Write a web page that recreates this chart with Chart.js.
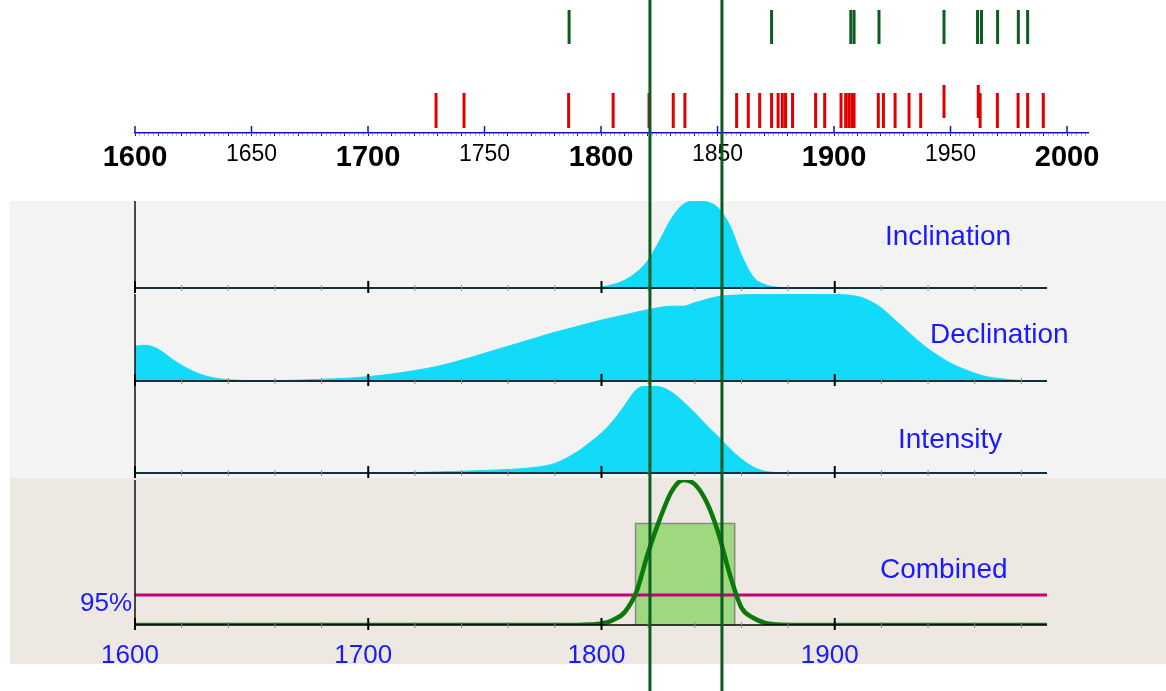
<!DOCTYPE html>
<html>
<head>
<meta charset="utf-8">
<script src="https://cdn.jsdelivr.net/npm/chart.js@4/dist/chart.umd.min.js"></script>
<style>
body { margin: 0; background: #fff; width: 1166px; height: 691px; position: relative; overflow: hidden; font-family: "Liberation Sans", Arial, sans-serif; }
canvas { position: absolute; left: 0; }
.bg { position: absolute; left: 10px; right: 0; }
.lbl { position: absolute; color: #1a1aff; font-size: 28px; line-height: 1; white-space: nowrap; }
</style>
</head>
<body>
<div class="bg" style="top:201px;height:277px;background:#f3f3f3"></div>
<div class="bg" style="top:478px;height:186px;background:#ede8e2"></div>

<canvas id="topAxis" width="1166" height="178" style="top:0"></canvas>
<canvas id="incl" width="1166" height="94" style="top:200px"></canvas>
<canvas id="decl" width="1166" height="94" style="top:293px"></canvas>
<canvas id="inten" width="1166" height="94" style="top:385px"></canvas>
<canvas id="comb" width="1166" height="186" style="top:478px"></canvas>

<div class="lbl" style="left:885px;top:222px">Inclination</div>
<div class="lbl" style="left:930px;top:320px">Declination</div>
<div class="lbl" style="left:898px;top:425px">Intensity</div>
<div class="lbl" style="left:880px;top:555px">Combined</div>
<div class="lbl" style="left:80px;top:589px;font-size:26px">95%</div>

<canvas id="overlay" width="1166" height="691" style="top:0;z-index:5;pointer-events:none"></canvas>

<script>
// event dates on the top time line
var redEvents = [1729.2, 1741.2, 1786.1, 1805.2, 1820.6, 1831.0, 1836.0, 1858.2, 1863.2, 1868.1,
    1873.2, 1876.0, 1877.8, 1879.2, 1882.2, 1892.1, 1896.0, 1903.0, 1905.0, 1906.3, 1907.6, 1908.6,
    1919.0, 1921.2, 1926.2, 1932.2, 1937.2, 1962.7, 1970.1, 1979.0, 1983.1, 1989.8];
var redEventsTall = [1947.2, 1961.9];
var greenEvents = [1786.3, 1873.2, 1907.2, 1908.6, 1919.3, 1947.2, 1961.6, 1963.3, 1970.2, 1979.1, 1983.1];
var rangeBounds = [1821.0, 1851.9];

// density curves (relative heights)
var inclYears = [1600, 1795, 1800, 1805, 1810, 1815, 1820, 1825, 1830, 1835, 1840, 1845, 1850, 1855, 1860, 1865, 1870, 1875, 1880, 1991];
var inclDensity = [0, 0, 0.01, 0.04, 0.09, 0.18, 0.32, 0.55, 0.8, 0.96, 1.0, 0.99, 0.92, 0.72, 0.38, 0.13, 0.04, 0.01, 0, 0];

var declYears = [1600, 1604, 1608, 1612, 1616, 1620, 1625, 1630, 1635, 1640, 1650, 1660, 1670, 1680, 1690, 1700,
    1710, 1720, 1730, 1740, 1750, 1760, 1770, 1780, 1790, 1800, 1810, 1820, 1830, 1835, 1840, 1850, 1860,
    1880, 1900, 1910, 1915, 1920, 1925, 1930, 1935, 1940, 1945, 1950, 1955, 1960, 1965, 1970, 1980, 1991];
var declDensity = [0.40, 0.41, 0.39, 0.33, 0.25, 0.18, 0.11, 0.06, 0.03, 0.015, 0.005, 0.005, 0.01, 0.02, 0.03, 0.05,
    0.08, 0.12, 0.17, 0.24, 0.32, 0.40, 0.48, 0.56, 0.63, 0.70, 0.76, 0.82, 0.86, 0.86, 0.9, 0.97, 0.99,
    1.0, 0.995, 0.97, 0.92, 0.84, 0.72, 0.6, 0.48, 0.37, 0.28, 0.2, 0.14, 0.09, 0.05, 0.03, 0.005, 0];

var intYears = [1600, 1710, 1720, 1740, 1750, 1760, 1770, 1780, 1790, 1795, 1800, 1805, 1810, 1815, 1820, 1825,
    1830, 1835, 1840, 1845, 1850, 1855, 1860, 1865, 1870, 1875, 1880, 1991];
var intDensity = [0, 0, 0.005, 0.02, 0.03, 0.04, 0.06, 0.11, 0.25, 0.35, 0.46, 0.6, 0.78, 0.96, 1.0, 0.99,
    0.93, 0.82, 0.69, 0.55, 0.42, 0.28, 0.16, 0.07, 0.02, 0.005, 0, 0];

var combYears = [1600, 1790, 1795, 1800, 1805, 1810, 1815, 1820, 1825, 1830, 1835, 1840, 1845, 1850, 1855, 1860, 1865, 1870, 1875, 1880, 1991];
var combDensity = [0, 0, 0.003, 0.01, 0.035, 0.09, 0.23, 0.5, 0.73, 0.92, 1.0, 0.97, 0.85, 0.64, 0.35, 0.12, 0.05, 0.015, 0.003, 0, 0];

var hpdRange = [1814.6, 1857.1];
var hpdHeight = 0.70;
var level95 = 0.207;

var bottomTickYears = [1600, 1700, 1800, 1900];

var FONT = '"Liberation Sans", Arial, sans-serif';
var CYAN = '#11dbf8';
var DARK_GREEN = '#0d5c1f';
var AXIS_BLUE = '#1010d0';

function pts(xs, ys) {
    return xs.map(function (x, i) { return { x: x, y: ys[i] }; });
}

function marks(years, level) {
    return years.map(function (x) { return { x: x, y: level }; });
}

function tickMarks(years, level, color, len) {
    return {
        data: marks(years, level),
        pointStyle: 'line',
        pointRotation: 90,
        pointRadius: len / 2,
        pointBorderColor: color,
        pointBorderWidth: 3,
        showLine: false
    };
}

var noLegend = { legend: { display: false }, tooltip: { enabled: false } };

// upward ticks every 50 years on the top axis
var topAxisTicks = {
    id: 'topAxisTicks',
    afterDraw: function (chart) {
        var ctx = chart.ctx, a = chart.chartArea, x = chart.scales.x;
        ctx.save();
        ctx.strokeStyle = AXIS_BLUE;
        ctx.lineWidth = 1.5;
        for (var v = 1600; v <= 2000; v += 50) {
            var px = x.getPixelForValue(v);
            ctx.beginPath();
            ctx.moveTo(px, a.bottom);
            ctx.lineTo(px, a.bottom - 7);
            ctx.stroke();
        }
        ctx.restore();
    }
};

new Chart(document.getElementById('topAxis'), {
    type: 'scatter',
    data: {
        datasets: [
            tickMarks(greenEvents, 27, DARK_GREEN, 34),
            tickMarks(redEvents, 110.5, '#e00000', 35),
            tickMarks(redEventsTall, 101.5, '#e00000', 33)
        ]
    },
    options: {
        responsive: false,
        animation: false,
        layout: { autoPadding: false, padding: { left: 135, right: 78, top: 0, bottom: 0 } },
        plugins: noLegend,
        scales: {
            x: {
                type: 'linear', min: 1600, max: 2009,
                afterFit: function (s) { s.height = 45; },
                border: { color: AXIS_BLUE, width: 1.5 },
                grid: {
                    drawOnChartArea: false, tickLength: 3,
                    tickColor: function (c) { return c.tick && c.tick.value % 10 === 0 ? AXIS_BLUE : 'rgba(16,16,208,0.35)'; }
                },
                ticks: {
                    stepSize: 2, autoSkip: false, maxRotation: 0, minRotation: 0, includeBounds: false,
                    padding: 5, color: '#000',
                    callback: function (v) { return v % 50 === 0 ? String(v) : ''; },
                    font: function (c) {
                        var big = c.tick && c.tick.value % 100 === 0;
                        return { family: FONT, size: big ? 29 : 23, weight: big ? 'bold' : 'normal' };
                    }
                }
            },
            y: { display: false, min: 0, max: 133, reverse: true }
        }
    },
    plugins: [topAxisTicks]
});

// left axis, baseline and 20-year ticks of each panel
var panelFrame = {
    id: 'panelFrame',
    afterDatasetsDraw: function (chart, args, opts) {
        var ctx = chart.ctx, a = chart.chartArea, x = chart.scales.x;
        ctx.save();
        ctx.strokeStyle = '#111';
        ctx.lineWidth = 1.5;
        ctx.beginPath();
        ctx.moveTo(a.left, a.top);
        ctx.lineTo(a.left, a.bottom);
        ctx.stroke();
        ctx.strokeStyle = opts.baseColor || '#10303a';
        ctx.lineWidth = opts.baseWidth || 2;
        ctx.beginPath();
        ctx.moveTo(a.left, a.bottom);
        ctx.lineTo(a.right, a.bottom);
        ctx.stroke();
        for (var v = 1600; v <= x.max; v += 20) {
            var px = x.getPixelForValue(v);
            var major = v % 100 === 0;
            ctx.strokeStyle = major ? '#000' : '#8a8a8a';
            ctx.lineWidth = major ? 2 : 1;
            ctx.beginPath();
            ctx.moveTo(px, a.bottom - (major ? 7 : 3));
            ctx.lineTo(px, a.bottom + (major ? 5 : 3));
            ctx.stroke();
        }
        ctx.restore();
    }
};

function densityPanel(id, xs, ys) {
    return new Chart(document.getElementById(id), {
        type: 'line',
        data: {
            datasets: [{
                data: pts(xs, ys),
                fill: 'origin',
                backgroundColor: CYAN,
                borderColor: CYAN,
                borderWidth: 1,
                pointRadius: 0,
                cubicInterpolationMode: 'monotone'
            }]
        },
        options: {
            responsive: false,
            animation: false,
            layout: { autoPadding: false, padding: { left: 135, right: 119, top: 1, bottom: 6 } },
            plugins: Object.assign({ panelFrame: { baseColor: '#10303a' } }, noLegend),
            scales: {
                x: { type: 'linear', display: false, min: 1600, max: 1991 },
                y: { display: false, min: 0, max: 1 }
            }
        },
        plugins: [panelFrame]
    });
}

densityPanel('incl', inclYears, inclDensity);
densityPanel('decl', declYears, declDensity);
densityPanel('inten', intYears, intDensity);

new Chart(document.getElementById('comb'), {
    type: 'line',
    data: {
        datasets: [
            {
                data: pts(combYears, combDensity),
                borderColor: '#0a7a0a', borderWidth: 4.5, pointRadius: 0, fill: false,
                cubicInterpolationMode: 'monotone'
            },
            {
                data: [{ x: 1600, y: level95 }, { x: 1991, y: level95 }],
                borderColor: '#c4007a', borderWidth: 3, pointRadius: 0, fill: false
            },
            {
                data: [
                    { x: hpdRange[0], y: 0 }, { x: hpdRange[0], y: hpdHeight },
                    { x: hpdRange[1], y: hpdHeight }, { x: hpdRange[1], y: 0 }
                ],
                borderColor: '#8a8a8a', borderWidth: 1.5, backgroundColor: '#9ed97f',
                fill: 'origin', pointRadius: 0, tension: 0
            }
        ]
    },
    options: {
        responsive: false,
        animation: false,
        layout: { autoPadding: false, padding: { left: 135, right: 119, top: 2, bottom: 0 } },
        plugins: Object.assign({ panelFrame: { baseColor: '#000', baseWidth: 1.5 } }, noLegend),
        scales: {
            x: {
                type: 'linear', min: 1600, max: 1991,
                afterFit: function (s) { s.height = 39; },
                afterBuildTicks: function (s) {
                    s.ticks = bottomTickYears.map(function (v) { return { value: v }; });
                },
                border: { display: false },
                grid: { display: false, drawTicks: false },
                ticks: {
                    autoSkip: false, maxRotation: 0, labelOffset: -5,
                    padding: 15, color: '#1a1aff', font: { family: FONT, size: 26 },
                    callback: function (v) { return String(v); }
                }
            },
            y: { display: false, min: 0, max: 1 }
        }
    },
    plugins: [panelFrame]
});

// the two long vertical lines over the whole figure
new Chart(document.getElementById('overlay'), {
    type: 'line',
    data: {
        datasets: rangeBounds.map(function (v) {
            return { data: [{ x: v, y: 0 }, { x: v, y: 1 }], borderColor: DARK_GREEN, borderWidth: 3, pointRadius: 0 };
        })
    },
    options: {
        responsive: false,
        animation: false,
        layout: { autoPadding: false, padding: { left: 135, right: 78, top: 0, bottom: 0 } },
        plugins: noLegend,
        scales: {
            x: { type: 'linear', display: false, min: 1600, max: 2009 },
            y: { display: false, min: 0, max: 1 }
        }
    }
});
</script>
</body>
</html>
